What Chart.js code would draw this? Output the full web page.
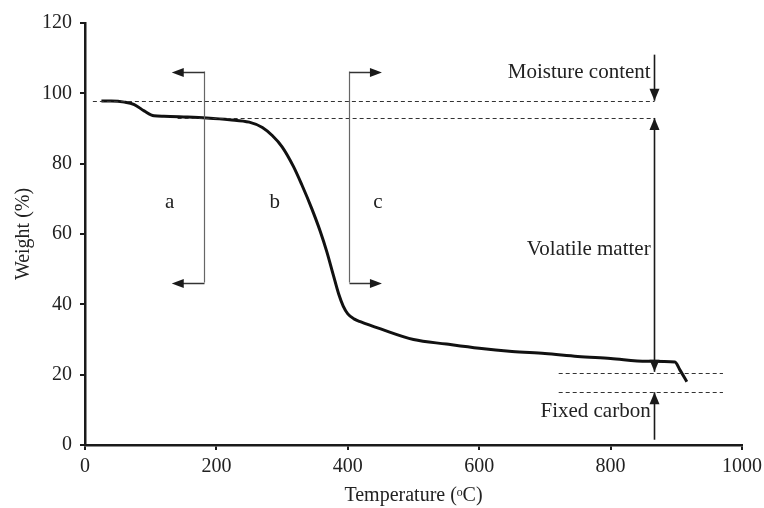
<!DOCTYPE html>
<html><head><meta charset="utf-8">
<script src="https://cdn.jsdelivr.net/npm/chart.js@4/dist/chart.umd.min.js"></script>
<style>html,body{margin:0;padding:0;background:#fff}#wrap{width:764px;height:508px;position:relative}</style>
</head><body><div id="wrap"><canvas id="c"></canvas></div>
<script>
// TGA curve
const temperature = [25, 40, 60, 75, 90, 105, 120, 150, 185, 220, 250, 270, 285, 300, 317, 330, 345, 358, 368, 378, 386, 393, 400, 410, 420, 450, 500, 550, 600, 650, 700, 750, 800, 855, 898, 905, 916];
const weight      = [97.8, 97.8, 97.5, 96.8, 95.0, 93.6, 93.5, 93.3, 93.0, 92.5, 91.8, 90.3, 88.0, 84.8, 79.3, 74.0, 67.3, 60.8, 55.0, 48.3, 43.0, 39.5, 37.3, 35.8, 35.0, 33.0, 30.0, 28.7, 27.5, 26.6, 26.0, 25.2, 24.6, 23.8, 23.6, 21.5, 18.0];

const xTicks = [0, 200, 400, 600, 800, 1000];
const yTicks = [0, 20, 40, 60, 80, 100, 120];

// dashed reference lines (data units)
const dashY  = [97.9, 93.0, 20.5, 15.0];
const dashX1 = [12, 141, 721, 721];
const dashX2 = [867, 867, 971, 971];

// vertical arrows at x = arrowX (data units)
const arrowX = 866;
const arrowFrom = [111, 20.8, 1.5];   // tail / lower end
const arrowTo   = [97.9, 93.0, 15.0]; // tip
const arrowBothEnds = [false, true, false];

// region brackets
const regionLabels = ['a', 'b', 'c'];
const regionX = [129, 289, 446];
const regionY = 68.9;
const bracketX = [181, 402];
const bracketTip = [132, 452];
const bracketTop = 106.2;
const bracketBottom = 46.2;

// notes
const noteLabels = ['Moisture content', 'Volatile matter', 'Fixed carbon'];
const noteY = [105.9, 55.5, 9.5];
const noteRight = 861;

const FONT = '"Liberation Serif", "Times New Roman", serif';
const INK = '#1a1a1a';

function arrowHead(ctx, x, y, dir, len, half) {
  ctx.beginPath();
  if (dir === 'down') { ctx.moveTo(x, y); ctx.lineTo(x - half, y - len); ctx.lineTo(x + half, y - len); }
  if (dir === 'up')   { ctx.moveTo(x, y); ctx.lineTo(x - half, y + len); ctx.lineTo(x + half, y + len); }
  if (dir === 'left') { ctx.moveTo(x, y); ctx.lineTo(x + len, y - half); ctx.lineTo(x + len, y + half); }
  if (dir === 'right'){ ctx.moveTo(x, y); ctx.lineTo(x - len, y - half); ctx.lineTo(x - len, y + half); }
  ctx.closePath(); ctx.fill();
}

const annotations = {
  id: 'annotations',
  afterDatasetsDraw(chart) {
    const ctx = chart.ctx, xs = chart.scales.x, ys = chart.scales.y;
    const X = v => xs.getPixelForValue(v), Y = v => ys.getPixelForValue(v);
    ctx.save();
    // dashed lines
    ctx.strokeStyle = '#333'; ctx.lineWidth = 1; ctx.setLineDash([4, 3]);
    dashY.forEach((y, i) => {
      ctx.beginPath(); ctx.moveTo(X(dashX1[i]), Math.round(Y(y)) + 0.5); ctx.lineTo(X(dashX2[i]), Math.round(Y(y)) + 0.5); ctx.stroke();
    });
    ctx.setLineDash([]);
    // vertical arrows
    ctx.strokeStyle = INK; ctx.fillStyle = INK; ctx.lineWidth = 1.6;
    const ax = Math.round(X(arrowX)) + 0.5;
    arrowFrom.forEach((f, i) => {
      const t = arrowTo[i];
      const yf = Y(f), yt = Y(t);
      const dir = t > f ? 'up' : 'down';
      ctx.beginPath(); ctx.moveTo(ax, yf); ctx.lineTo(ax, yt); ctx.stroke();
      arrowHead(ctx, ax, yt, dir, 12, 5);
      if (arrowBothEnds[i]) arrowHead(ctx, ax, yf, dir === 'up' ? 'down' : 'up', 12, 5);
    });
    // brackets
    bracketX.forEach((bx, i) => {
      const px = Math.round(X(bx)) + 0.5, tip = X(bracketTip[i]);
      const dir = bracketTip[i] < bx ? 'left' : 'right';
      ctx.strokeStyle = '#666'; ctx.lineWidth = 1.2;
      ctx.beginPath(); ctx.moveTo(px, Y(bracketTop)); ctx.lineTo(px, Y(bracketBottom)); ctx.stroke();
      ctx.strokeStyle = '#333'; ctx.lineWidth = 1.5;
      [bracketTop, bracketBottom].forEach(by => {
        const py = Math.round(Y(by)) + 0.5;
        ctx.beginPath(); ctx.moveTo(px, py); ctx.lineTo(tip + (dir === 'left' ? 8 : -8), py); ctx.stroke();
        ctx.fillStyle = INK;
        arrowHead(ctx, tip, py, dir, 12, 4.5);
      });
    });
    // texts
    ctx.fillStyle = '#222';
    ctx.font = '21px ' + FONT;
    ctx.textBaseline = 'middle';
    ctx.textAlign = 'center';
    regionLabels.forEach((t, i) => ctx.fillText(t, X(regionX[i]), Y(regionY)));
    ctx.textAlign = 'right';
    noteLabels.forEach((t, i) => ctx.fillText(t, X(noteRight), Y(noteY[i])));
    ctx.restore();
  }
};

new Chart(document.getElementById('c'), {
  type: 'line',
  data: {
    datasets: [{
      data: temperature.map((t, i) => ({ x: t, y: weight[i] })),
      borderColor: '#111',
      borderWidth: 3,
      pointRadius: 0,
      fill: false,
      cubicInterpolationMode: 'monotone'
    }]
  },
  options: {
    responsive: true,
    maintainAspectRatio: false,
    animation: false,
    devicePixelRatio: 1,
    layout: { padding: { left: 0, right: 22, top: 23, bottom: 0 } },
    plugins: { legend: { display: false }, tooltip: { enabled: false } },
    scales: {
      x: {
        type: 'linear', min: 0, max: 1000,
        afterBuildTicks: s => { s.ticks = xTicks.map(v => ({ value: v })); },
        afterFit: s => { s.height = 63; s.paddingLeft = 0; s.paddingRight = 0; },
        grid: { drawOnChartArea: false, drawTicks: true, tickLength: 5, color: INK, lineWidth: 2 },
        border: { display: true, color: INK, width: 2.5 },
        ticks: { color: '#222', padding: 5, font: { family: FONT, size: 20 }, maxRotation: 0, callback: v => String(v) },
        title: { display: true, text: 'Temperature (ᵒC)', color: '#222', font: { family: FONT, size: 20 }, padding: { top: 0, bottom: 0 } }
      },
      y: {
        type: 'linear', min: 0, max: 120,
        afterBuildTicks: s => { s.ticks = yTicks.map(v => ({ value: v })); },
        afterFit: s => { s.width = 85; s.paddingTop = 0; s.paddingBottom = 0; },
        grid: { drawOnChartArea: false, drawTicks: true, tickLength: 5, color: INK, lineWidth: 2 },
        border: { display: true, color: INK, width: 2.5 },
        ticks: { color: '#222', padding: 8, font: { family: FONT, size: 20 }, callback: v => String(v) },
        title: { display: true, text: 'Weight (%)', color: '#222', font: { family: FONT, size: 20 }, padding: { top: 12, bottom: 0 } }
      }
    }
  },
  plugins: [annotations]
});
</script>
</body></html>
